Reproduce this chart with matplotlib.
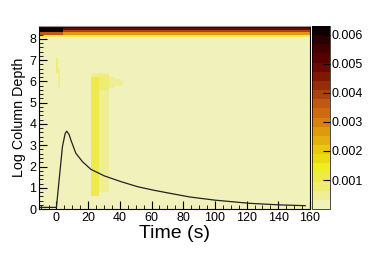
import numpy as np
import matplotlib
matplotlib.use("Agg")
import matplotlib.pyplot as plt
from matplotlib.colors import ListedColormap, BoundaryNorm
from matplotlib.ticker import MultipleLocator

# histogram binning (time in s, log column depth)
time_edges = np.arange(-11, 161, 1.0)
depth_edges = np.arange(0, 8.61, 0.1)

base_level = 0.00012

# top rows of the map (lower bin edge -> value), before and after t = 4 s
top_depths = [8.1, 8.2, 8.3, 8.4, 8.5]
top_early = [0.0012, 0.0036, 0.0061, 0.0062, 0.0063]
top_late = [0.0011, 0.0026, 0.0040, 0.0049, 0.0057]
early_end = 4.0

# raised regions: t0, t1, d0, d1, value
patch_t0 = [21.5, 22.0, 27.0, 33.0, 37.0, 40.0, 0.0, 1.0]
patch_t1 = [33.0, 27.0, 33.0, 37.0, 40.0, 42.0, 1.0, 2.0]
patch_d0 = [0.8, 0.6, 5.6, 5.7, 5.8, 5.85, 6.4, 5.7]
patch_d1 = [6.4, 6.2, 6.35, 6.25, 6.1, 6.0, 7.1, 6.6]
patch_val = [0.00050, 0.00100, 0.00070, 0.00050, 0.00045, 0.00040, 0.00080, 0.00050]

# black curve
curve_t = [-11, 0, 1.7, 3.8, 5.5, 6.5, 8.0, 9.1, 12.2, 16.4, 21.7, 30.2, 40.7,
           51.3, 61.8, 70.3, 84, 100, 122, 140, 157]
curve_y = [0.08, 0.08, 1.37, 2.94, 3.55, 3.66, 3.5, 3.25, 2.63, 2.23, 1.87, 1.56,
           1.29, 1.05, 0.88, 0.76, 0.57, 0.42, 0.27, 0.2, 0.16]

vmin, vmax, ncont = 0.0, 0.0063, 20

band_colors = ["#f1f1bc", "#efee94", "#eeec72", "#eeea4c", "#eeee22",
               "#e9dc12", "#e8c810", "#e4b010", "#e09810", "#d88010",
               "#d06a10", "#c05810", "#aa4210", "#962c08", "#801800",
               "#6c0800", "#560000", "#400000", "#280000", "#0c0000"]


def main():
    tc = 0.5 * (time_edges[:-1] + time_edges[1:])
    dc = 0.5 * (depth_edges[:-1] + depth_edges[1:])
    T, D = np.meshgrid(tc, dc)
    z = np.full(T.shape, base_level)

    for d, ve, vl in zip(top_depths, top_early, top_late):
        row = (D > d) & (D < d + 0.1)
        z[row & (T < early_end)] = ve
        z[row & (T >= early_end)] = vl

    for t0, t1, d0, d1, v in zip(patch_t0, patch_t1, patch_d0, patch_d1, patch_val):
        m = (T > t0) & (T < t1) & (D > d0) & (D < d1)
        z[m] = np.maximum(z[m], v)

    cmap = ListedColormap(band_colors)
    norm = BoundaryNorm(np.linspace(vmin, vmax, ncont + 1), ncont)

    fig = plt.figure(figsize=(3.88, 2.63), dpi=100)
    plt.rcParams['font.family'] = ['Liberation Sans', 'DejaVu Sans']
    ax = fig.add_axes([0.1005, 0.205, 0.6985, 0.696])
    cax = fig.add_axes([0.804, 0.205, 0.047, 0.696])

    mesh = ax.pcolormesh(time_edges, depth_edges, z, cmap=cmap, norm=norm)
    ax.plot(curve_t, curve_y, color="#222222", lw=0.9)

    ax.set_xlim(-11, 160)
    ax.set_ylim(0, 8.6)
    ax.xaxis.set_major_locator(MultipleLocator(20))
    ax.xaxis.set_minor_locator(MultipleLocator(5))
    ax.yaxis.set_major_locator(MultipleLocator(1))
    ax.yaxis.set_minor_locator(MultipleLocator(0.2))
    ax.tick_params(which="both", direction="in", top=False, right=False,
                   labelsize=9, pad=2)
    ax.tick_params(which="major", length=6, width=0.8)
    ax.tick_params(which="minor", length=3, width=0.6)
    ax.set_xlabel("Time (s)", fontsize=14, labelpad=1)
    ax.set_ylabel("Log Column Depth", fontsize=10.3, labelpad=2)
    ax.spines["top"].set_color("#999999")

    cb = fig.colorbar(mesh, cax=cax, ticks=[0.001, 0.002, 0.003, 0.004, 0.005, 0.006])
    cb.ax.set_yticklabels(["0.001", "0.002", "0.003", "0.004", "0.005", "0.006"])
    cb.ax.tick_params(direction="in", length=5, width=0.8, labelsize=9, pad=1)
    cb.ax.minorticks_off()
    cb.outline.set_linewidth(0.5)

    fig.savefig("out.png", dpi=100)


if __name__ == '__main__':
    main()
